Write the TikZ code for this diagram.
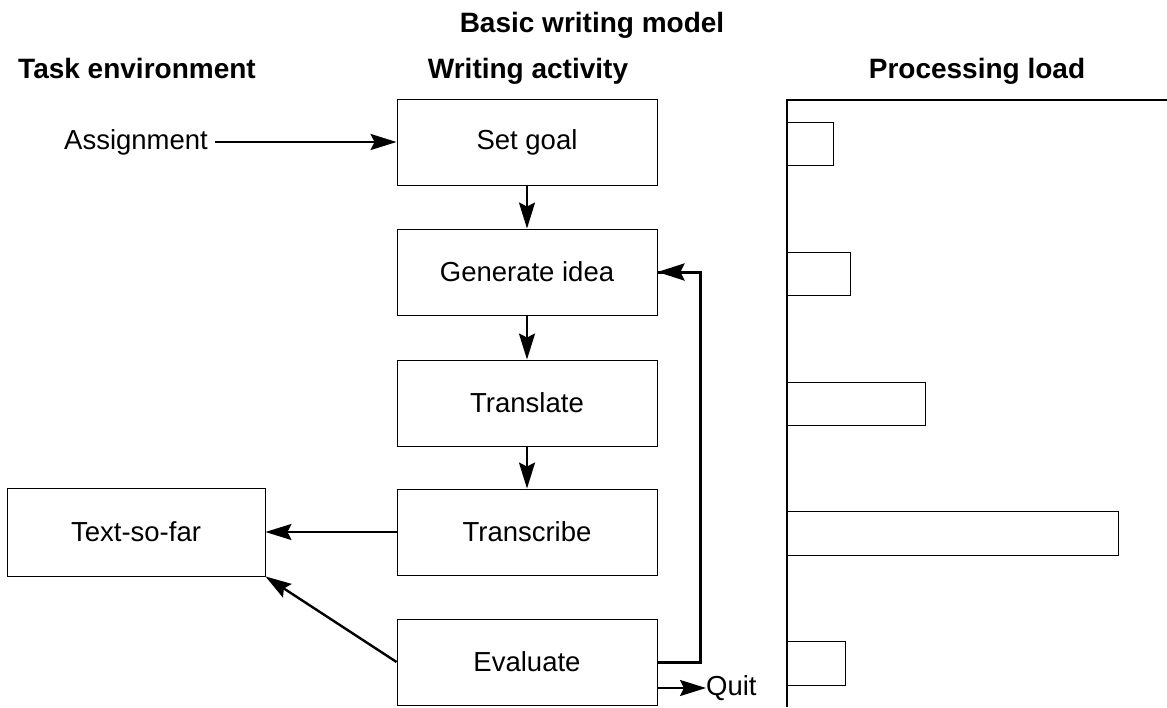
\documentclass[tikz,border=0pt]{standalone}
\usepackage{fontspec}
\setmainfont{Liberation Sans}
\usetikzlibrary{arrows.meta}
\begin{document}
\begin{tikzpicture}[x=1pt,y=-1pt,
  txt/.style={font=\fontsize{27.5}{32}\selectfont, inner sep=0pt},
  head/.style={font=\bfseries\fontsize{28}{32}\selectfont, inner sep=0pt, anchor=base},
  actbox/.style={draw, line width=0.9pt, minimum width=260pt, minimum height=86pt, font=\fontsize{27.5}{32}\selectfont, inner sep=0pt},
  bar/.style={draw, line width=1pt},
  arr/.style={-{Stealth[length=26pt,width=16pt,inset=4pt]}, line width=2.4pt},
  fb/.style={line width=3pt}]
\useasboundingbox (0,0) rectangle (1167,707);
% headings
\node[head] (title) at (592,32) {Basic writing model};
\node[head] (h1) at (137,78) {Task environment};
\node[head] (h2) at (528,78) {Writing activity};
\node[head] (h3) at (977,78) {Processing load};
% activity boxes
\node[actbox] (set) at (527,142.5) {Set goal};
\node[actbox] (gen) at (527,272) {Generate idea};
\node[actbox] (tra) at (527,403) {Translate};
\node[actbox] (tsc) at (527,532) {Transcribe};
\node[actbox] (eva) at (527,662) {Evaluate};
% task environment
\node[txt] (asg) at (136,142) {Assignment};
\node[draw, line width=0.9pt, minimum width=258pt, minimum height=88pt, txt] (tsf) at (136,532) {Text-so-far};
% arrows
\draw[arr] (asg.east) ++(7,0) coordinate (a0) -- (set.west |- a0);
\draw[arr] (set) -- (gen);
\draw[arr] (gen) -- (tra);
\draw[arr] (tra) -- (tsc);
\draw[arr] (tsc.west) -- (tsc.west -| tsf.east);
\draw[arr] (eva.west) -- (tsf.south east);
% feedback loop
\draw[fb] (eva.east) -- ++(43,0) coordinate (fc) |- (gen.east);
\draw[-{Stealth[length=27pt,width=17pt,inset=4pt]}, line width=3pt] ([xshift=40pt]gen.east) -- (gen.east);
% quit
\node[txt, anchor=west] (quit) at (706,688) {Quit};
\draw[arr] (eva.east |- quit) -- (quit.west);
% processing load chart
\coordinate (ax0) at (787,100);
\coordinate (ax1) at (787,707);
\coordinate (ax2) at (1167,100);
\draw[line width=1.3pt] (ax1) -- (ax0) -- (ax2);
\draw[bar] (787,122) rectangle (833,165);
\draw[bar] (787,252) rectangle (850,295);
\draw[bar] (787,382) rectangle (925,425);
\draw[bar] (787,511) rectangle (1118,555);
\draw[bar] (787,641) rectangle (845,685);
\end{tikzpicture}
\end{document}
